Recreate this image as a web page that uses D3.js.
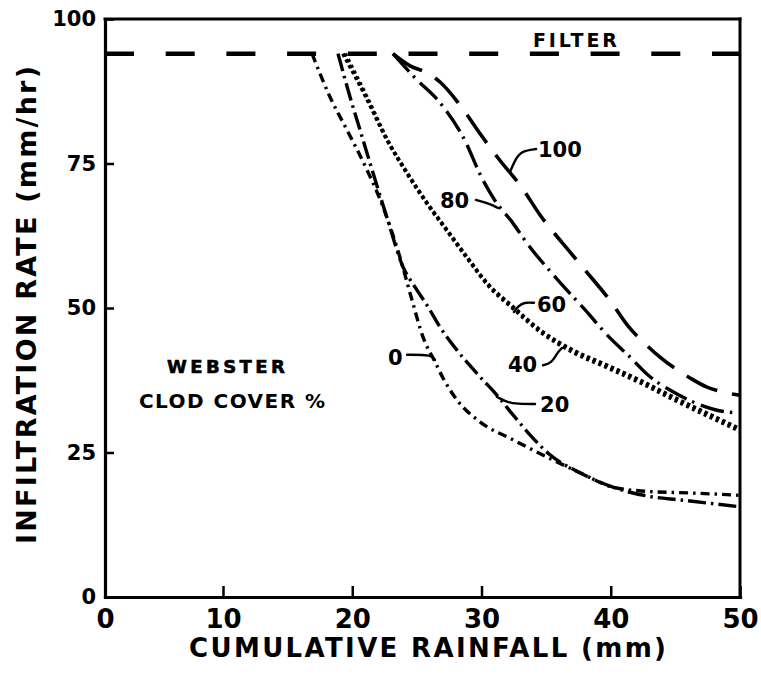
<!DOCTYPE html>
<html><head><meta charset="utf-8">
<script src="https://cdn.jsdelivr.net/npm/d3@7/dist/d3.min.js"></script>
<style>body{margin:0;background:#fff}svg{display:block}</style>
</head><body><svg id="c" width="761" height="677"></svg>
<script>
// ---- data ----
const xTicks = [0, 10, 20, 30, 40, 50];
const yTicks = [0, 25, 50, 75, 100];
const filterRate = 94;
const filterRain = [0, 50];

const rain0 = [16.89, 18.28, 19.59, 21.14, 22.38, 23.7, 24.62, 25.47, 26.4, 27.02, 28.1, 29.88, 32.44, 35.07, 37.62, 40.17, 42.65, 46.13, 50.0];
const rate0 = [94, 86.5, 80.8, 73.9, 67.5, 58.7, 51.4, 45.0, 40.7, 37.9, 34.1, 30.3, 27.2, 24.2, 21.5, 19.0, 18.3, 18.0, 17.6];

const rain20 = [18.9, 19.83, 20.6, 21.37, 22.69, 23.93, 24.86, 25.78, 26.79, 28.1, 29.88, 31.2, 32.44, 33.98, 35.3, 37.62, 40.17, 43.27, 45.36, 50.0];
const rate20 = [94, 86.5, 80.8, 75.1, 65.6, 57.1, 53.6, 50.5, 46.7, 42.7, 38.1, 34.9, 31.5, 27.5, 24.6, 21.5, 19.0, 17.3, 16.8, 15.6];

const rain60 = [19.28, 21.06, 22.69, 24.24, 25.78, 27.33, 28.88, 30.43, 32.44, 34.53, 37.08, 39.71, 42.26, 44.82, 47.45, 50.0];
const rate60 = [94, 86.5, 79.1, 73.4, 68.2, 63.5, 58.8, 54.3, 50.2, 46.2, 42.7, 40.1, 37.5, 34.6, 31.8, 29.1];

const rain40 = [19.45, 21.2, 22.8, 24.35, 25.9, 27.45, 29.0, 30.55, 32.55, 34.65, 37.2, 39.8, 42.35, 44.9, 47.5, 50.0];
const rate40 = [94, 86.2, 78.7, 72.9, 67.7, 63.0, 58.3, 53.8, 49.7, 45.7, 42.2, 39.6, 37.0, 34.1, 31.3, 28.7];

const rain80 = [23.15, 24.86, 26.79, 28.57, 30.12, 31.04, 32.36, 33.52, 35.69, 38.0, 39.86, 41.41, 42.88, 44.58, 46.52, 48.07, 50.0];
const rate80 = [94, 89.8, 85.5, 79.6, 72.1, 68.6, 64.9, 61.2, 55.4, 49.7, 45.0, 41.7, 38.4, 35.8, 33.6, 32.4, 31.8];

const rain100 = [23.15, 24.47, 25.78, 26.79, 28.34, 29.81, 31.28, 33.13, 34.53, 36.92, 38.0, 39.94, 41.33, 42.57, 43.81, 46.13, 47.45, 48.61, 50.0];
const rate100 = [94, 91.9, 90.7, 89.1, 85.1, 80.4, 75.95, 70.8, 66.1, 59.5, 56.6, 51.3, 46.9, 44.0, 41.5, 37.9, 36.3, 35.5, 34.9];

const coverNames = ["0", "20", "40", "60", "80", "100"];

// curve labels (text start, baseline) and leader lines, in data units
const labelRain = [22.77, 34.53, 32.05, 34.29, 26.79, 34.37];
const labelRate = [40.1, 32.0, 38.9, 49.3, 67.3, 76.1];
const leader0 = [[24.24, 41.9], [26.17, 41.9], [26.4, 41.0]];
const leader20 = [[34.14, 33.4], [32.75, 33.4], [31.97, 33.7], [31.2, 34.6]];
const leader40 = [[34.76, 40.1], [35.45, 40.5], [35.84, 42.2], [36.23, 43.1]];
const leader60 = [[34.06, 50.9], [33.29, 51.0], [32.82, 50.3], [32.51, 49.3]];
const leader80 = [[29.57, 68.7], [30.66, 68.0], [31.28, 67.3]];
const leader100 = [[32.2, 73.5], [32.67, 75.95], [33.13, 77.16], [34.22, 77.5]];

const xTitle = "CUMULATIVE RAINFALL (mm)";
const yTitle = "INFILTRATION RATE (mm/hr)";
const filterText = "FILTER";
const noteLine1 = "WEBSTER";
const noteLine2 = "CLOD COVER %";

// ---- build ----
const seriesRain = [rain0, rain20, rain40, rain60, rain80, rain100];
const seriesRate = [rate0, rate20, rate40, rate60, rate80, rate100];
const leaders = [leader0, leader20, leader40, leader60, leader80, leader100];
const dashStyles = ["9,5,2.5,5", "18,5,2.5,5", "3,3.5", "3.5,3", "24,6,2.5,7", "34,15"];
const widths = [3.4, 3.4, 3.8, 3.8, 3.4, 3.6];

const svg = d3.select("#c");
const FONT = "'DejaVu Sans', sans-serif";

const x = d3.scaleLinear().domain([0, 10, 50]).range([105, 223, 740]);
const y = d3.scaleLinear().domain([0, 100]).range([597, 19]);

// frame top and right
svg.append("line").attr("x1", x(0)).attr("x2", x(50)).attr("y1", y(100)).attr("y2", y(100))
  .attr("stroke", "#000").attr("stroke-width", 3).attr("stroke-linecap", "square");
svg.append("line").attr("x1", x(50)).attr("x2", x(50)).attr("y1", y(100)).attr("y2", y(0))
  .attr("stroke", "#000").attr("stroke-width", 3).attr("stroke-linecap", "square");

const gx = svg.append("g").attr("transform", `translate(0,${y(0)})`)
  .call(d3.axisBottom(x).tickValues(xTicks).tickSizeInner(-11).tickSizeOuter(0).tickPadding(13).tickFormat(d3.format("d")));
gx.select(".domain").attr("stroke-width", 3.2).attr("stroke-linecap", "square");
gx.selectAll(".tick line").attr("stroke-width", 2.5);
gx.selectAll(".tick text").attr("font-family", FONT).attr("font-weight", "bold").attr("font-size", 26).attr("fill", "#000");

const gy = svg.append("g").attr("transform", `translate(${x(0)},0)`)
  .call(d3.axisLeft(y).tickValues(yTicks).tickSizeInner(-9).tickSizeOuter(0).tickPadding(9).tickFormat(d3.format("d")));
gy.select(".domain").attr("stroke-width", 3.2).attr("stroke-linecap", "square");
gy.selectAll(".tick line").attr("stroke-width", 2.5);
gy.selectAll(".tick text").attr("font-family", FONT).attr("font-weight", "bold").attr("font-size", 21).attr("fill", "#000");

// titles
svg.append("text").attr("x", (x(0) + x(50)) / 2 + 5).attr("y", 657)
  .attr("text-anchor", "middle").attr("font-family", FONT).attr("font-weight", "bold")
  .attr("font-size", 26).attr("textLength", 477).attr("lengthAdjust", "spacing").text(xTitle);
svg.append("text").attr("transform", `translate(36,${(y(0) + y(100)) / 2 - 3}) rotate(-90)`)
  .attr("text-anchor", "middle").attr("font-family", FONT).attr("font-weight", "bold")
  .attr("font-size", 27).attr("textLength", 478).attr("lengthAdjust", "spacing").text(yTitle);

// filter line
svg.append("path")
  .attr("d", d3.line().x(d => x(d)).y(() => y(filterRate))(filterRain))
  .attr("fill", "none").attr("stroke", "#000").attr("stroke-width", 4.5)
  .attr("stroke-dasharray", "29,31.7");
svg.append("text").attr("x", x(33.98)).attr("y", y(95.2)).attr("font-family", FONT)
  .attr("font-weight", "bold").attr("font-size", 19).attr("textLength", 84).attr("lengthAdjust", "spacing")
  .text(filterText);

// curves
const line = d3.line().x(d => x(d[0])).y(d => y(d[1])).curve(d3.curveMonotoneX);
coverNames.forEach((name, i) => {
  const pts = seriesRain[i].map((r, j) => [r, seriesRate[i][j]]);
  svg.append("path").attr("d", line(pts)).attr("fill", "none").attr("stroke", "#000")
    .attr("stroke-width", widths[i])
    .attr("stroke-linecap", "butt")
    .attr("stroke-dasharray", dashStyles[i]);
});

// leaders and labels
const lline = d3.line().x(d => x(d[0])).y(d => y(d[1])).curve(d3.curveBasis);
coverNames.forEach((name, i) => {
  svg.append("path").attr("d", lline(leaders[i])).attr("fill", "none").attr("stroke", "#000")
    .attr("stroke-width", 2.4).attr("stroke-linecap", "round");
  svg.append("text").attr("x", x(labelRain[i])).attr("y", y(labelRate[i]))
    .attr("font-family", FONT).attr("font-weight", "bold").attr("font-size", 21).text(name);
});

// note
svg.append("text").attr("x", x(5.25)).attr("y", y(38.75)).attr("font-family", FONT)
  .attr("font-weight", "bold").attr("font-size", 18).attr("stroke", "#000").attr("stroke-width", 0.6)
  .attr("textLength", 118).attr("lengthAdjust", "spacing").text(noteLine1);
svg.append("text").attr("x", x(2.88)).attr("y", y(32.7)).attr("font-family", FONT)
  .attr("font-weight", "bold").attr("font-size", 20)
  .attr("textLength", 186).attr("lengthAdjust", "spacing").text(noteLine2);
</script>
</body></html>
